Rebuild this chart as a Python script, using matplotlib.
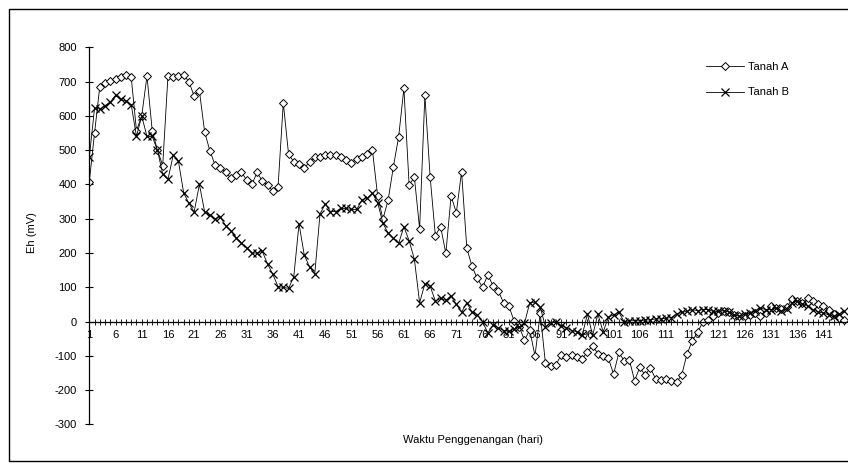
import matplotlib
matplotlib.use('Agg')
import matplotlib.pyplot as plt
from matplotlib.patches import Rectangle
import numpy as np

plt.rcParams['font.family'] = ['Liberation Sans', 'DejaVu Sans']

# data (Eh dalam mV per hari penggenangan)
hari = np.arange(1, 146)

tanah_a = [408, 550, 685, 697, 703, 707, 712, 719, 712, 557,
           600, 716, 557, 500, 455, 716, 712, 716, 719, 700,
           657, 673, 553, 498, 456, 447, 437, 418, 427, 437,
           413, 400, 435, 410, 397, 381, 393, 638, 489, 466,
           460, 447, 466, 479, 481, 486, 486, 486, 479, 471,
           464, 473, 481, 489, 500, 366, 299, 355, 452, 539,
           680, 398, 421, 271, 660, 423, 251, 277, 199, 366,
           318, 437, 214, 161, 126, 100, 136, 105, 90, 55,
           47, 2, -15, -54, -24, -100, 24, -122, -128, -126,
           -97, -104, -97, -104, -109, -88, -70, -94, -99, -107,
           -153, -90, -114, -112, -172, -133, -156, -135, -167, -170,
           -167, -174, -177, -155, -94, -57, -31, -2, 5, 15,
           25, 30, 28, 20, 15, 15, 20, 25, 15, 25,
           45, 40, 38, 42, 65, 60, 55, 68, 60, 50,
           45, 35, 22, 12, 5]

tanah_b = [479, 622, 620, 630, 640, 660, 648, 643, 632, 540,
           600, 540, 540, 500, 430, 415, 485, 468, 375, 345,
           320, 400, 320, 310, 300, 305, 280, 265, 245, 230,
           215, 200, 200, 205, 168, 138, 102, 100, 97, 131,
           285, 194, 160, 139, 314, 343, 321, 321, 330, 330,
           327, 327, 355, 360, 374, 347, 287, 258, 243, 228,
           277, 236, 182, 55, 110, 104, 60, 68, 62, 75,
           50, 28, 55, 28, 20, 0, -33, -10, -18, -26,
           -28, -22, -15, -5, 55, 57, 42, -15, -3, 0,
           -12, -18, -26, -30, -40, 22, -40, 22, -30, 13,
           20, 27, 0, 2, 3, 2, 5, 5, 8, 8,
           10, 12, 22, 27, 30, 35, 32, 35, 35, 30,
           30, 32, 28, 20, 15, 22, 25, 30, 40, 35,
           35, 40, 30, 38, 55, 60, 52, 45, 35, 28,
           25, 20, 15, 22, 30]

y_ticks = list(range(-300, 801, 100))
x_labels = [str(d) if (d - 1) % 5 == 0 else '' for d in hari]

fig = plt.figure(figsize=(8.48, 4.65), dpi=100)
ax = fig.add_axes([0.1053, 0.0871, 0.8947, 0.8112])

ax.plot(hari, tanah_a, color='black', lw=0.6, marker='D', ms=4.2,
        mfc='white', mec='black', mew=0.7, label='Tanah A')
ax.plot(hari, tanah_b, color='black', lw=0.6, marker='x', ms=6,
        mew=0.9, label='Tanah B')

ax.set_xlim(1, 145.7)
ax.set_ylim(-300, 800)
ax.set_yticks(y_ticks)
ax.set_yticklabels([str(v) for v in y_ticks])
ax.set_xticks(hari)
ax.set_xticklabels(x_labels)

for s in ['top', 'right']:
    ax.spines[s].set_visible(False)
ax.spines['bottom'].set_position(('data', 0))
ax.spines['left'].set_linewidth(0.9)
ax.spines['bottom'].set_linewidth(0.9)

ax.tick_params(axis='y', direction='inout', length=6, width=0.8,
               labelsize=8, pad=6)
ax.tick_params(axis='x', direction='inout', length=4, width=0.6,
               labelsize=8, pad=4)

ax.set_xlabel('Waktu Penggenangan (hari)', fontsize=8)
ax.xaxis.set_label_coords(0.506, -0.028)
ax.set_ylabel('Eh (mV)', fontsize=8)
ax.yaxis.set_label_coords(-0.069, 0.51)

ax.legend(loc='center left', bbox_to_anchor=(0.8325, 0.8286),
          bbox_transform=fig.transFigure, frameon=False, fontsize=8,
          handlelength=3.4, handletextpad=0.4, labelspacing=1.4,
          borderpad=0, borderaxespad=0)

# bingkai luar grafik
fig.add_artist(Rectangle((9 / 848, 4 / 465), 1.0, 0.972, fill=False,
                         edgecolor='black', lw=1.0,
                         transform=fig.transFigure))

fig.savefig('out.png', dpi=100)
